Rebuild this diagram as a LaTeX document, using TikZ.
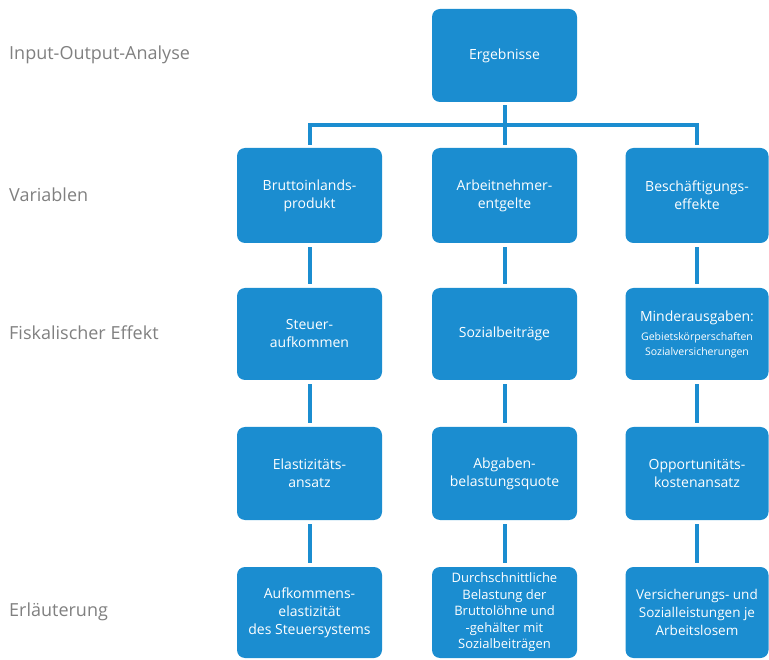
\documentclass[tikz,border=0pt]{standalone}
\usepackage{fontspec}
\setmainfont{Open Sans}
\definecolor{boxblue}{RGB}{27,141,208}
\definecolor{labgray}{RGB}{128,128,128}
\tikzset{
  box/.style={fill=boxblue, draw=none, rounded corners=8pt, minimum width=145pt, minimum height=93pt,
    text=white, align=center, inner sep=2pt, font=\fontsize{14}{18}\selectfont},
  conn/.style={draw=boxblue, line width=4pt},
  lab/.style={anchor=west, text=labgray, font=\fontsize{18}{20}\selectfont, inner sep=0pt}
}
\begin{document}
\begin{tikzpicture}[x=1pt,y=-1pt]
\useasboundingbox (0,0) rectangle (769,660);
% row labels
\node[lab] (l0) at (9,55) {Input-Output-Analyse};
\node[lab] (l1) at (9,195) {Variablen};
\node[lab] (l2) at (9,333) {Fiskalischer Effekt};
\node[lab] (l3) at (9,612) {Erläuterung};
% boxes
\node[box] (top) at (504.5,55.5) {Ergebnisse};
\node[box, minimum height=95pt] (v1) at (309.5,195.5) {Bruttoinlands-\\produkt};
\node[box, minimum height=95pt] (v2) at (504.5,195.5) {Arbeitnehmer-\\entgelte};
\node[box, minimum height=95pt, minimum width=143pt] (v3) at (697,195.5) {Beschäftigungs-\\effekte};
\node[box, minimum height=92pt] (f1) at (309.5,334) {Steuer-\\aufkommen};
\node[box, minimum height=92pt] (f2) at (504.5,334) {Sozialbeiträge};
\node[box, minimum height=92pt, minimum width=143pt, font=\fontsize{14}{18}\selectfont] (f3) at (697,334) {Minderausgaben:\\[1pt]{\fontsize{10.5}{14}\selectfont Gebietskörperschaften}\\[-3pt]{\fontsize{10.5}{14}\selectfont Sozialversicherungen}};
\node[box] (e1) at (309.5,473.5) {Elastizitäts-\\ansatz};
\node[box] (e2) at (504.5,473.5) {Abgaben-\\belastungsquote};
\node[box, minimum width=143pt] (e3) at (697,473.5) {Opportunitäts-\\kostenansatz};
\node[box, minimum height=91pt] (x1) at (309.5,612.5) {Aufkommens-\\elastizität\\des Steuersystems};
\node[box, minimum height=91pt, font=\fontsize{13}{16.5}\selectfont] (x2) at (504.5,612.5) {Durchschnittliche\\Belastung der\\Bruttolöhne und\\-gehälter mit\\Sozialbeiträgen};
\node[box, minimum height=91pt, minimum width=143pt, font=\fontsize{13.5}{18}\selectfont] (x3) at (697,612.5) {Versicherungs- und\\Sozialleistungen je\\Arbeitslosem};
% connectors
\coordinate (bus) at (504.5,125);
\draw[conn, shorten <=3pt] (top.south) -- (top.south |- bus);
\draw[conn, shorten <=3pt, shorten >=3pt] (v1.north) -- (v1.north |- bus) -- (v3.north |- bus) -- (v3.north);
\draw[conn, shorten >=3pt] (top.south |- bus) -- (v2.north);
\foreach \a/\b in {v1/f1,v2/f2,v3/f3,f1/e1,f2/e2,f3/e3,e1/x1,e2/x2,e3/x3}{
  \draw[conn, shorten <=4pt, shorten >=4pt] (\a.south) -- (\b.north);
}
\end{tikzpicture}
\end{document}
